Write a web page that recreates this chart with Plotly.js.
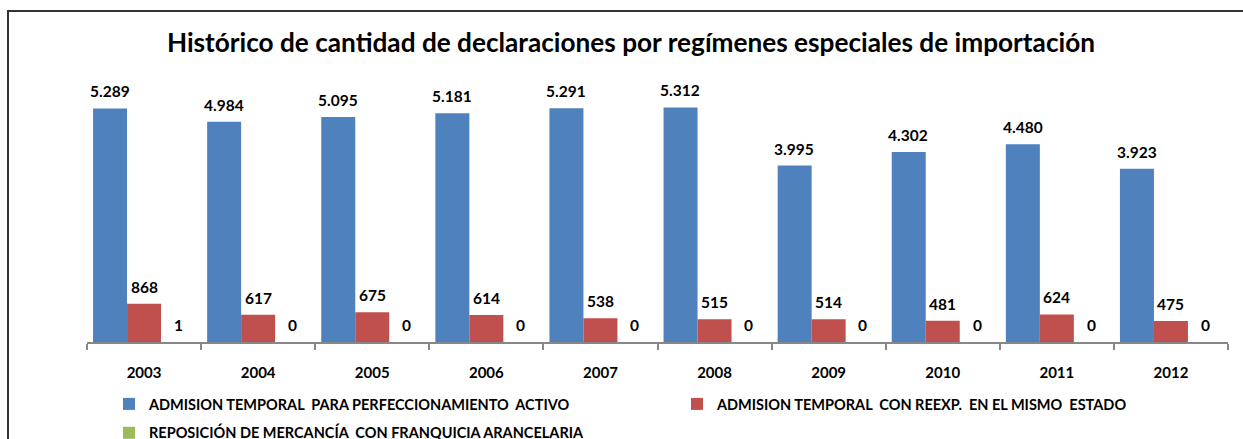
<!DOCTYPE html>
<html>
<head>
<meta charset="utf-8">
<script src="https://cdn.plot.ly/plotly-3.0.1.min.js"></script>
<style>html,body{margin:0;padding:0;background:#fff;}#chart{width:1243px;height:439px;}</style>
</head>
<body>
<div id="chart"></div>
<script>
const years = ['2003','2004','2005','2006','2007','2008','2009','2010','2011','2012'];
const seriesNames = [
  'ADMISION TEMPORAL  PARA PERFECCIONAMIENTO  ACTIVO',
  'ADMISION TEMPORAL  CON REEXP.  EN EL MISMO  ESTADO',
  'REPOSICIÓN DE MERCANCÍA  CON FRANQUICIA ARANCELARIA'
];
const perfeccionamiento = [5289, 4984, 5095, 5181, 5291, 5312, 3995, 4302, 4480, 3923];
const reexportacion = [868, 617, 675, 614, 538, 515, 514, 481, 624, 475];
const reposicion = [1, 0, 0, 0, 0, 0, 0, 0, 0, 0];

const colors = ['#4F81BD', '#C0504D', '#9BBB59'];
const FONT = 'Lato, "Open Sans", sans-serif';
const allSeries = [perfeccionamiento, reexportacion, reposicion];
const legendOf = ['legend', 'legend2', 'legend'];

function fmt(v) { return String(v).replace(/\B(?=(\d{3})+(?!\d))/g, '.'); }

const traces = allSeries.map((vals, i) => ({
  type: 'bar',
  name: seriesNames[i],
  x: years,
  y: vals,
  marker: {color: colors[i]},
  legend: legendOf[i],
  legendgroup: 'g' + i,
  hoverinfo: 'skip'
}));

const annotations = [];
allSeries.forEach((vals, i) => {
  vals.forEach((v, j) => {
    annotations.push({
      x: j, y: v, xref: 'x', yref: 'y',
      xshift: (i - 1) * 34.3, yshift: 6,
      yanchor: 'bottom', xanchor: 'center',
      text: fmt(v), showarrow: false,
      font: {family: FONT, size: 15.5, color: '#000', weight: 'bold'}
    });
  });
});

const layout = {
  width: 1243, height: 439,
  margin: {l: 87, r: 15, t: 77, b: 97, autoexpand: false},
  paper_bgcolor: '#fff', plot_bgcolor: '#fff',
  barmode: 'group',
  bargap: 0.106, bargroupgap: 0,
  title: {
    text: 'Histórico de cantidad de declaraciones por regímenes especiales de importación',
    font: {family: FONT, size: 26.2, color: '#000', weight: 'bold'},
    x: 0.5076, xref: 'container', xanchor: 'center',
    y: 0.902, yref: 'container', yanchor: 'middle'
  },
  xaxis: {
    type: 'category', range: [-0.5, 9.5], autorange: false,
    showgrid: false,
    showline: true, linecolor: '#878787', linewidth: 2,
    ticks: 'outside', tickson: 'boundaries', ticklen: 6, tickcolor: '#878787', tickwidth: 2,
    ticklabelstandoff: 16, tickangle: 0,
    tickfont: {family: FONT, size: 15, color: '#000', weight: 'bold'},
    fixedrange: true
  },
  yaxis: {
    range: [0, 6000], autorange: false, visible: false, fixedrange: true
  },
  showlegend: true,
  legend: {
    orientation: 'v', x: 109 / 1243, xref: 'container', xanchor: 'left',
    y: (439 - 388) / 439, yref: 'container', yanchor: 'top',
    font: {family: FONT, size: 14.5, color: '#000', weight: 'bold'},
    tracegroupgap: 7, bgcolor: 'rgba(0,0,0,0)', itemclick: false
  },
  legend2: {
    orientation: 'v', x: 677 / 1243, xref: 'container', xanchor: 'left',
    y: (439 - 388) / 439, yref: 'container', yanchor: 'top',
    font: {family: FONT, size: 14.5, color: '#000', weight: 'bold'},
    bgcolor: 'rgba(0,0,0,0)', itemclick: false
  },
  annotations: annotations,
  shapes: [{
    type: 'rect', xref: 'paper', yref: 'paper',
    x0: (8 - 87) / 1141, x1: 1.2, y0: -0.6, y1: (342 - 11) / 265,
    line: {color: '#333', width: 2}, fillcolor: 'rgba(0,0,0,0)', layer: 'below'
  }]
};

Plotly.newPlot('chart', traces, layout, {displayModeBar: false, staticPlot: true});
</script>
</body>
</html>
